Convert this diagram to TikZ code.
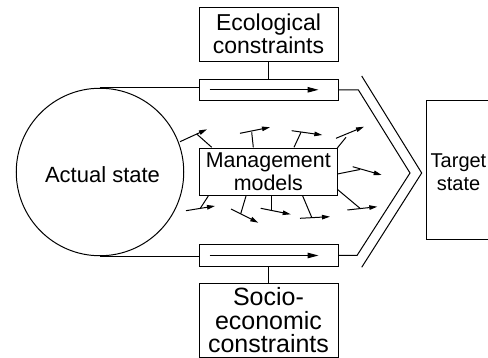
\documentclass[tikz,border=0pt]{standalone}
\usepackage{fontspec}
\setmainfont{Liberation Sans}
\usetikzlibrary{arrows.meta}
\begin{document}
\begin{tikzpicture}[x=1pt,y=-1pt, line width=1pt,
  box/.style={draw, inner sep=0pt, align=center},
  tube/.style={draw, inner sep=0pt, minimum width=139pt, minimum height=21.5pt},
  bigarrow/.style={-{Triangle[length=11pt,width=5.5pt]}},
  smallarrow/.style={-{Triangle[length=8pt,width=4.5pt]}}]
\useasboundingbox (0,0) rectangle (488,358);
\clip (0,0) rectangle (488,358);
% nodes
\node[circle, draw, minimum size=167.5pt, inner sep=0pt, font=\fontsize{22}{25}\selectfont] (act) at (100,172) {};
\node[inner sep=0pt, font=\fontsize{22}{25}\selectfont] (actlabel) at (102.5,175) {Actual state};
\node[box, minimum width=139pt, minimum height=54pt, font=\fontsize{23}{23}\selectfont] (eco) at (268.5,34.2) {Ecological\\constraints};
\node[tube] (t1) at (268.5,89.8) {};
\node[box, minimum width=138.5pt, minimum height=47.4pt, font=\fontsize{21.4}{23.4}\selectfont] (mm) at (268.3,172) {Management\\models};
\node[tube] (t2) at (268.5,255.5) {};
\node[box, minimum width=139pt, minimum height=73.7pt, font=\fontsize{25}{23.5}\selectfont] (soc) at (268.5,320.5) {Socio-\\economic\\constraints};
\node[draw, inner sep=0pt, minimum width=74pt, minimum height=139.3pt, anchor=west] (tgt) at (426,170.35) {};
\node[align=center, inner sep=0pt, font=\fontsize{20}{22.7}\selectfont] (tgtlabel) at (458.5,172.5) {Target\\state};
% connectors
\draw (act.north) -- (act.north -| t1.west);
\draw (act.south) -- (act.south -| t2.west);
\draw (eco.south) -- (t1.north);
\draw (t2.south) -- (soc.north);
\coordinate (c1) at (358.3,89.8);
\coordinate (tip) at (410,173);
\coordinate (c2) at (357,255.5);
\draw (t1.east) -- (c1) -- (tip) -- (c2) -- (t2.east);
\coordinate (o1) at (361.7,76);
\coordinate (otip) at (421.7,173);
\coordinate (o2) at (361.7,267.3);
\draw (o1) -- (otip) -- (o2);
% arrows in tubes
\draw[bigarrow] ([xshift=11pt]t1.west) -- ([xshift=-20pt]t1.east);
\draw[bigarrow] ([xshift=11pt]t2.west) -- ([xshift=-20pt]t2.east);
% small model arrows
\foreach \sx/\sy/\ex/\ey/\ax/\ay/\bx/\by in {
  211.7/147.3/196.7/134.0/180/141.7/207/129.3,
  253.3/147.3/251.7/132.3/240/133.3/270/127.3,
  294/147.3/301/132.3/291.7/130.7/322.3/135,
  337.3/148/346/137.3/336/138.3/364/126.7,
  337.3/174/360/169.5/352.7/166.7/381.7/175,
  337.3/189.3/360/208.3/347.3/210/377.3/206.7,
  302.7/196/311.7/217.3/300/218.3/330/216.7,
  271.7/196/271.7/210.5/260.7/208.3/290.7/214.3,
  246/196/240.7/213.8/231/209/258.3/222.7,
  208.3/196/200/208.8/186/210.7/215/206}
{
  \draw (\sx,\sy) -- (\ex,\ey);
  \draw[smallarrow] (\ax,\ay) -- (\bx,\by);
}
\end{tikzpicture}
\end{document}
